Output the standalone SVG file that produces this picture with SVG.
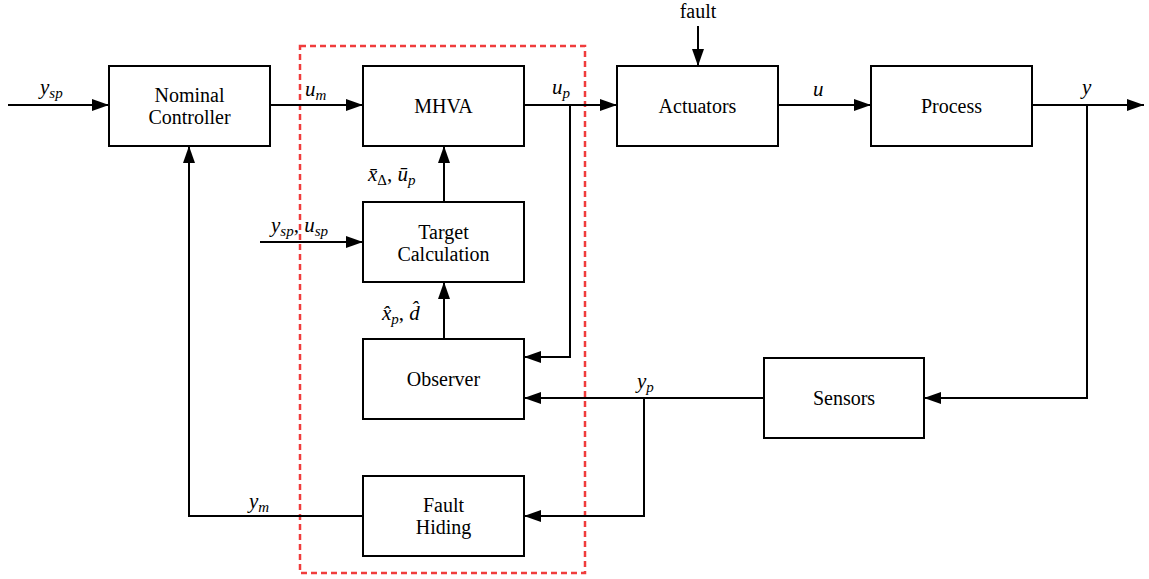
<svg xmlns="http://www.w3.org/2000/svg" width="1149" height="579" viewBox="0 0 1149 579">
<style>
.box{fill:#fff;stroke:#000;stroke-width:2}
.t{font-family:"Liberation Serif",serif;font-size:20px;text-anchor:middle;fill:#000}
.m{font-family:"Liberation Serif",serif;font-size:21px;font-style:italic;fill:#000}
.s{font-size:15px}
.c{fill:none;stroke:#000;stroke-width:2}
</style>
<defs>
<marker id="ah" markerWidth="17" markerHeight="12" refX="17" refY="6" orient="auto" markerUnits="userSpaceOnUse">
<path d="M0,0 L17,6 L0,12 Z" fill="#000"/>
</marker>
</defs>
<rect x="300" y="46" width="285" height="527" fill="none" stroke="#f03c3c" stroke-width="2.5" stroke-dasharray="6,4"/>
<g id="connectors">
<path class="c" d="M8,105 H109" marker-end="url(#ah)"/>
<path class="c" d="M270,105 H363" marker-end="url(#ah)"/>
<path class="c" d="M524,105 H617" marker-end="url(#ah)"/>
<path class="c" d="M570,105 V357 H524" marker-end="url(#ah)"/>
<path class="c" d="M698,26 V66" marker-end="url(#ah)"/>
<path class="c" d="M778,105 H871" marker-end="url(#ah)"/>
<path class="c" d="M1032,105 H1144" marker-end="url(#ah)"/>
<path class="c" d="M1087,105 V398 H924" marker-end="url(#ah)"/>
<path class="c" d="M764,398 H524" marker-end="url(#ah)"/>
<path class="c" d="M644,398 V516 H524" marker-end="url(#ah)"/>
<path class="c" d="M363,516 H189 V146" marker-end="url(#ah)"/>
<path class="c" d="M444,202 V146" marker-end="url(#ah)"/>
<path class="c" d="M444,339 V282" marker-end="url(#ah)"/>
<path class="c" d="M260,242 H363" marker-end="url(#ah)"/>
</g>
<g id="labels">
<text class="m" x="40" y="94">y<tspan class="s" dy="4">sp</tspan></text>
<text class="m" x="305" y="96">u<tspan class="s" dy="4">m</tspan></text>
<text class="m" x="552" y="94">u<tspan class="s" dy="4">p</tspan></text>
<text class="m" x="368" y="181">x̄<tspan class="s" dy="4" font-style="normal">Δ</tspan><tspan dy="-4" font-style="normal">, </tspan>ū<tspan class="s" dy="4">p</tspan></text>
<text class="m" x="271" y="232">y<tspan class="s" dy="4">sp</tspan><tspan dy="-4" font-style="normal">, </tspan>u<tspan class="s" dy="4">sp</tspan></text>
<text class="m" x="382" y="320">x̂<tspan class="s" dy="4">p</tspan><tspan dy="-4" font-style="normal">, </tspan>d̂</text>
<text class="m" x="637" y="388">y<tspan class="s" dy="4">p</tspan></text>
<text class="m" x="249" y="508">y<tspan class="s" dy="4">m</tspan></text>
<text class="t" x="698" y="18">fault</text>
<text class="m" x="813" y="96">u</text>
<text class="m" x="1082" y="94">y</text>
</g>
<g id="nominal"><rect class="box" x="109" y="66" width="161" height="80"/><text class="t" x="189.5" y="102">Nominal</text><text class="t" x="189.5" y="124">Controller</text></g>
<g id="mhva"><rect class="box" x="363" y="66" width="161" height="80"/><text class="t" x="443.5" y="113">MHVA</text></g>
<g id="actuators"><rect class="box" x="617" y="66" width="161" height="80"/><text class="t" x="697.5" y="113">Actuators</text></g>
<g id="process"><rect class="box" x="871" y="66" width="161" height="80"/><text class="t" x="951.5" y="113">Process</text></g>
<g id="target"><rect class="box" x="363" y="202" width="161" height="80"/><text class="t" x="443.5" y="239">Target</text><text class="t" x="443.5" y="261">Calculation</text></g>
<g id="observer"><rect class="box" x="363" y="339" width="161" height="80"/><text class="t" x="443.5" y="386">Observer</text></g>
<g id="sensors"><rect class="box" x="764" y="358" width="160" height="80"/><text class="t" x="844" y="405">Sensors</text></g>
<g id="faulthiding"><rect class="box" x="363" y="476" width="161" height="80"/><text class="t" x="443.5" y="512">Fault</text><text class="t" x="443.5" y="534">Hiding</text></g>
</svg>
